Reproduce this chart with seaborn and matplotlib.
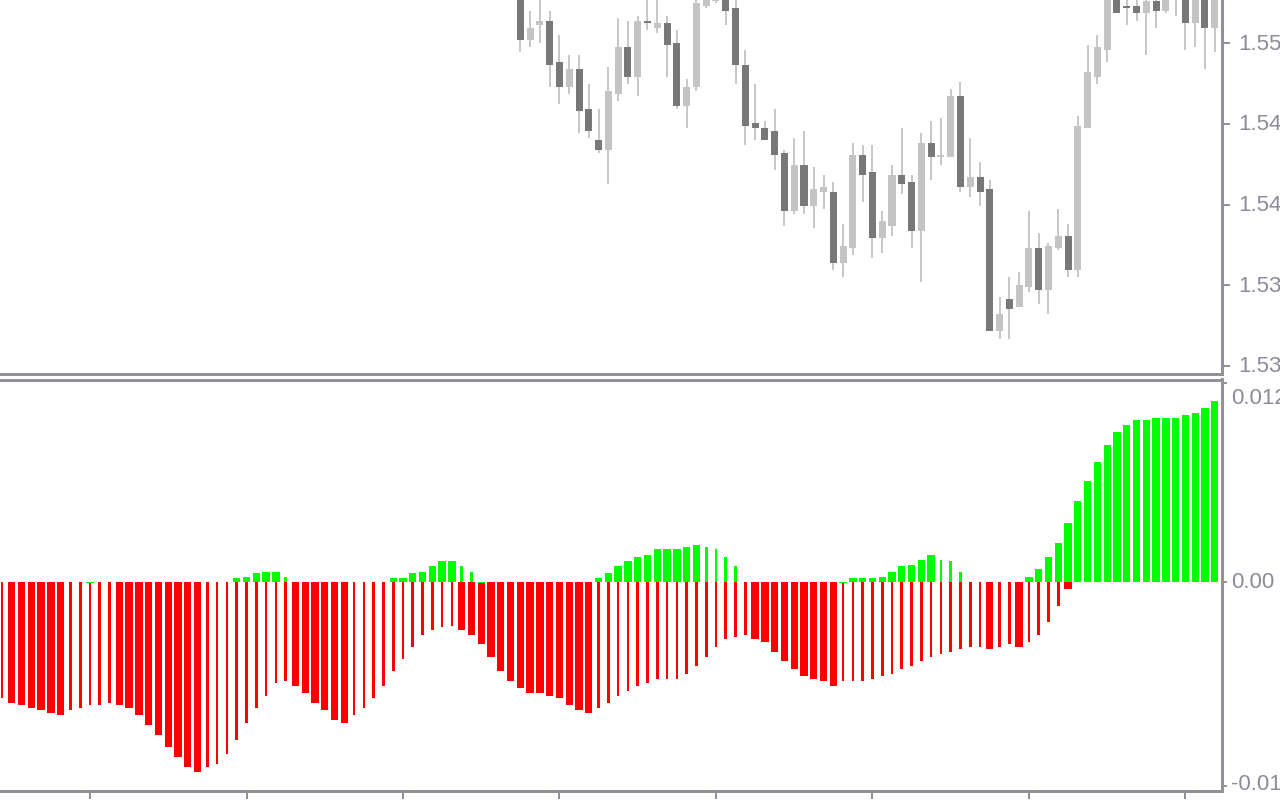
import numpy as np
import matplotlib
matplotlib.use('Agg')
import matplotlib.pyplot as plt
import seaborn as sns

# Oscillator histogram, one value per bar, in pips (0.0001).
# red = lower buffer, green = upper buffer, thick flag = wide bar

red_pips = [
    -72.8, -76.1, -77.4, -79.2, -80.5, -82.4, -83.6, -80.5, -79.2, -77.4,
    -77.4, -76.1, -77.4, -79.2, -83.6, -89.9, -96.1, -103.6, -109.8, -116.1,
    -119.2, -116.1, -114.2, -108.0, -99.2, -88.6, -79.2, -71.8, -63.6, -62.4,
    -65.5, -69.9, -76.1, -80.5, -86.7, -88.6, -83.6, -79.2, -73.0, -65.5,
    -56.2, -48.7, -41.2, -33.7, -30.6, -28.7, -27.5, -30.6, -33.7, -39.3,
    -47.4, -56.2, -62.4, -66.8, -69.9, -69.9, -71.8, -73.0, -77.4, -80.5,
    -82.4, -79.2, -76.1, -71.8, -68.6, -65.5, -63.6, -61.2, -61.2, -61.2,
    -58.0, -53.0, -47.4, -41.2, -36.2, -34.9, -33.7, -36.2, -38.0, -44.3,
    -49.9, -54.9, -59.3, -61.2, -62.4, -65.5, -62.4, -62.4, -62.4, -61.2,
    -59.3, -58.0, -54.9, -53.0, -49.9, -47.4, -45.6, -44.3, -42.4, -41.2,
    -41.2, -42.4, -41.2, -39.3, -41.2, -38.0, -33.7, -25.6, -15.0, -4.4,
    0, 0, 0, 0, 0, 0, 0, 0, 0, 0,
    0, 0, 0, 0, 0,
]
red_thick = [
    0, 1, 1, 1, 1, 1, 1, 0, 0, 0,
    0, 0, 1, 1, 1, 1, 1, 1, 1, 1,
    1, 0, 0, 0, 0, 0, 0, 0, 0, 0,
    1, 1, 1, 1, 1, 1, 0, 0, 0, 0,
    0, 0, 0, 0, 0, 0, 0, 1, 1, 1,
    1, 1, 1, 1, 1, 1, 1, 1, 1, 1,
    1, 0, 0, 0, 0, 0, 0, 0, 0, 0,
    0, 0, 0, 0, 0, 0, 0, 1, 1, 1,
    1, 1, 1, 1, 1, 1, 0, 0, 0, 0,
    0, 0, 0, 0, 0, 0, 0, 0, 0, 0,
    0, 1, 0, 0, 1, 0, 0, 0, 0, 1,
    0, 0, 0, 0, 0, 0, 0, 0, 0, 0,
    0, 0, 0, 0, 0,
]
green_pips = [
    0, 0, 0, 0, 0, 0, 0, 0, 0, -1.2,
    0, 0, 0, 0, 0, 0, 0, 0, 0, 0,
    0, 0, 0, 0, 1.9, 3.1, 5.0, 6.2, 6.2, 3.1,
    0, 0, 0, 0, 0, 0, 0, 0, 0, 0,
    1.9, 1.9, 5.0, 6.2, 9.4, 12.5, 12.5, 9.4, 6.2, -1.2,
    0, 0, 0, 0, 0, 0, 0, 0, 0, 0,
    0, 1.9, 5.0, 9.4, 12.5, 15.6, 16.8, 20.0, 20.0, 20.0,
    21.8, 23.1, 21.8, 20.0, 15.6, 9.4, 0, 0, 0, 0,
    0, 0, 0, 0, 0, 0, -1.2, 1.9, 1.9, 1.9,
    3.1, 6.2, 9.4, 10.6, 13.7, 16.8, 13.7, 12.5, 6.2, 0,
    0, 0, 0, 0, 0, 3.1, 8.1, 15.6, 24.3, 36.8,
    50.5, 63.0, 74.9, 85.5, 93.6, 98.0, 101.1, 101.1, 102.3, 102.3,
    102.3, 104.2, 105.5, 108.6, 112.9,
]
green_thick = [
    1, 1, 1, 1, 1, 1, 1, 1, 1, 1,
    1, 1, 1, 1, 1, 1, 1, 1, 1, 1,
    1, 1, 1, 1, 1, 1, 1, 1, 1, 0,
    1, 1, 1, 1, 1, 1, 1, 1, 1, 1,
    1, 1, 1, 1, 1, 1, 1, 0, 0, 1,
    1, 1, 1, 1, 1, 1, 1, 1, 1, 1,
    1, 1, 1, 1, 1, 1, 1, 1, 1, 1,
    1, 1, 0, 0, 0, 0, 1, 1, 1, 1,
    1, 1, 1, 1, 1, 1, 1, 1, 1, 1,
    1, 1, 1, 1, 1, 1, 0, 0, 0, 1,
    1, 1, 1, 1, 1, 1, 1, 1, 1, 1,
    1, 1, 1, 1, 1, 1, 1, 1, 1, 1,
    1, 1, 1, 1, 1,
]

# Price candles (the earlier bars sit above the visible price range)
first_candle = 53
candle_open = [
    1.55464, 1.55117, 1.55191, 1.55211, 1.55008, 1.54885, 1.54973, 1.54774, 1.54621, 1.54572,
    1.54850, 1.55082, 1.54935, 1.55211, 1.55176, 1.55201, 1.55102, 1.54791, 1.54885, 1.55285,
    1.55310, 1.55355, 1.55275, 1.54993, 1.54705, 1.54680, 1.54665, 1.54556, 1.54270, 1.54498,
    1.54295, 1.54364, 1.54363, 1.54012, 1.54086, 1.54546, 1.54462, 1.54136, 1.54196, 1.54447,
    1.54412, 1.54171, 1.54606, 1.54538, 1.54538, 1.54839, 1.54388, 1.54437, 1.54378, 1.53675,
    1.53832, 1.53794, 1.53892, 1.54085, 1.53877, 1.54085, 1.54144, 1.53976, 1.54682, 1.54935,
    1.55067, 1.55355, 1.55285, 1.55285, 1.55252, 1.55310, 1.55262, 1.55340, 1.55340, 1.55202,
    1.55340, 1.55178,
]
candle_high = [
    1.55513, 1.55260, 1.55340, 1.55260, 1.55141, 1.55042, 1.55042, 1.54898, 1.54774, 1.54983,
    1.55226, 1.55211, 1.55236, 1.55340, 1.55340, 1.55236, 1.55166, 1.54923, 1.55340, 1.55355,
    1.55389, 1.55389, 1.55340, 1.55067, 1.54898, 1.54715, 1.54774, 1.54571, 1.54631, 1.54665,
    1.54487, 1.54447, 1.54412, 1.54204, 1.54606, 1.54596, 1.54596, 1.54270, 1.54497, 1.54680,
    1.54447, 1.54655, 1.54715, 1.54730, 1.54874, 1.54908, 1.54631, 1.54511, 1.54422, 1.53843,
    1.53943, 1.53966, 1.54270, 1.54159, 1.54110, 1.54278, 1.54204, 1.54740, 1.55092, 1.55141,
    1.55365, 1.55389, 1.55330, 1.55330, 1.55340, 1.55340, 1.55355, 1.55414, 1.55365, 1.55365,
    1.55365, 1.55365,
]
candle_low = [
    1.55057, 1.55083, 1.55103, 1.54885, 1.54801, 1.54850, 1.54657, 1.54632, 1.54558, 1.54404,
    1.54816, 1.54900, 1.54840, 1.55166, 1.55153, 1.54935, 1.54776, 1.54682, 1.54865, 1.55275,
    1.55300, 1.55191, 1.54900, 1.54597, 1.54622, 1.54622, 1.54473, 1.54196, 1.54255, 1.54255,
    1.54186, 1.54280, 1.53977, 1.53943, 1.54052, 1.54315, 1.54037, 1.54062, 1.54146, 1.54354,
    1.54086, 1.53918, 1.54424, 1.54498, 1.54538, 1.54363, 1.54338, 1.54295, 1.53675, 1.53635,
    1.53635, 1.53794, 1.53867, 1.53807, 1.53759, 1.54075, 1.53943, 1.53943, 1.54682, 1.54900,
    1.55009, 1.55252, 1.55193, 1.55212, 1.55044, 1.55178, 1.55252, 1.55237, 1.55068, 1.55083,
    1.54974, 1.55059,
]
candle_close = [
    1.55117, 1.55176, 1.55211, 1.54993, 1.54885, 1.54973, 1.54766, 1.54667, 1.54572, 1.54864,
    1.55082, 1.54935, 1.55211, 1.55201, 1.55201, 1.55093, 1.54791, 1.54884, 1.55300, 1.55330,
    1.55365, 1.55260, 1.54994, 1.54692, 1.54682, 1.54622, 1.54548, 1.54270, 1.54498, 1.54295,
    1.54378, 1.54388, 1.54012, 1.54095, 1.54546, 1.54449, 1.54136, 1.54220, 1.54447, 1.54404,
    1.54171, 1.54606, 1.54538, 1.54546, 1.54839, 1.54388, 1.54437, 1.54363, 1.53675, 1.53758,
    1.53782, 1.53901, 1.54085, 1.53877, 1.54095, 1.54144, 1.53976, 1.54690, 1.54958, 1.55082,
    1.55340, 1.55252, 1.55277, 1.55252, 1.55310, 1.55262, 1.55340, 1.55389, 1.55202, 1.55340,
    1.55178, 1.55340,
]

price_ticks = [1.5510, 1.5470, 1.5430, 1.5390, 1.5350]
osc_ticks = [0.0124, 0.0, -0.0128]
osc_labels = ['0.0124', '0.00', '-0.0128']
time_ticks = [9, 25, 41, 57, 73, 89, 105, 121]

# colours
axis_grey = '#909298'
label_grey = '#8c8c99'
bear_grey = '#787878'
bull_grey = '#c4c4c4'
wick_grey = '#c8c8c8'
up_green = '#00ff00'
down_red = '#ff0000'

sns.set_theme(style='white')
plt.rcParams['font.family'] = ['Liberation Sans', 'DejaVu Sans']

fig = plt.figure(figsize=(12.8, 8), dpi=100)
ax1 = fig.add_axes([0, 0.533125, 0.9543, 0.466875])
ax2 = fig.add_axes([0, 0.011875, 0.9543, 0.51375])

xlim = (-0.2045, 124.69)

# price panel
ci = np.arange(first_candle, first_candle + len(candle_open))
o = np.array(candle_open)
c = np.array(candle_close)
bull = c >= o
ax1.vlines(ci, candle_low, candle_high, color=wick_grey, lw=1.44, antialiased=False, zorder=2)
ax1.bar(ci[bull], (c - o)[bull], bottom=o[bull], width=0.72, color=bull_grey,
        linewidth=0, antialiased=False, zorder=3)
ax1.bar(ci[~bull], (o - c)[~bull], bottom=c[~bull], width=0.72, color=bear_grey,
        linewidth=0, antialiased=False, zorder=3)
ax1.set_xlim(*xlim)
ax1.set_ylim(1.53462, 1.55315)

# oscillator panel
bi = np.arange(len(red_pips))
red = np.array(red_pips) / 10000
green = np.array(green_pips) / 10000
rt = np.array(red_thick) == 1
gt = np.array(green_thick) == 1
rn = red != 0
gn = green != 0
ax2.bar(bi[rn & rt], red[rn & rt], width=0.75, color=down_red, linewidth=0, antialiased=False)
ax2.bar(bi[rn & ~rt], red[rn & ~rt], width=0.27, color=down_red, linewidth=0, antialiased=False)
ax2.bar(bi[gn & gt], green[gn & gt], width=0.75, color=up_green, linewidth=0, antialiased=False)
ax2.bar(bi[gn & ~gt], green[gn & ~gt], width=0.27, color=up_green, linewidth=0, antialiased=False)
ax2.set_xlim(*xlim)
ax2.set_ylim(-0.013056, 0.012619)

for ax in (ax1, ax2):
    ax.set_facecolor('white')
    ax.grid(False)
    for side in ('left', 'right', 'top', 'bottom'):
        ax.spines[side].set_color(axis_grey)
        ax.spines[side].set_linewidth(2.16)
    ax.spines['left'].set_visible(False)
    ax.yaxis.tick_right()
    ax.set_xlabel('')
    ax.set_ylabel('')

ax1.spines['top'].set_visible(False)
ax1.set_xticks([])
ax1.set_yticks(price_ticks)
ax1.set_yticklabels([])
ax1.tick_params(axis='y', right=True, direction='out', length=5.4, width=1.44, color=axis_grey)

ax2.set_yticks(osc_ticks)
ax2.set_yticklabels([])
ax2.tick_params(axis='y', right=True, direction='out', length=3.5, width=1.44, color=axis_grey)
ax2.set_xticks(time_ticks)
ax2.set_xticklabels([])
ax2.tick_params(axis='x', bottom=True, direction='out', length=5.4, width=1.44, color=axis_grey)

# the scale labels run off the right edge, as in the terminal screenshot
for v in price_ticks:
    ax1.annotate(f'{v:.4f}', xy=(1, v), xycoords=('axes fraction', 'data'),
                 xytext=(17, -1), textcoords='offset pixels', ha='left', va='center',
                 fontsize=16, color=label_grey, annotation_clip=False)

osc_dy = [-15, -1, 2]
for v, lab, dy in zip(osc_ticks, osc_labels, osc_dy):
    ax2.annotate(lab, xy=(1, v), xycoords=('axes fraction', 'data'),
                 xytext=(9.5, dy), textcoords='offset pixels', ha='left', va='center',
                 fontsize=16, color=label_grey, annotation_clip=False)

fig.savefig('out.png', dpi=100)
